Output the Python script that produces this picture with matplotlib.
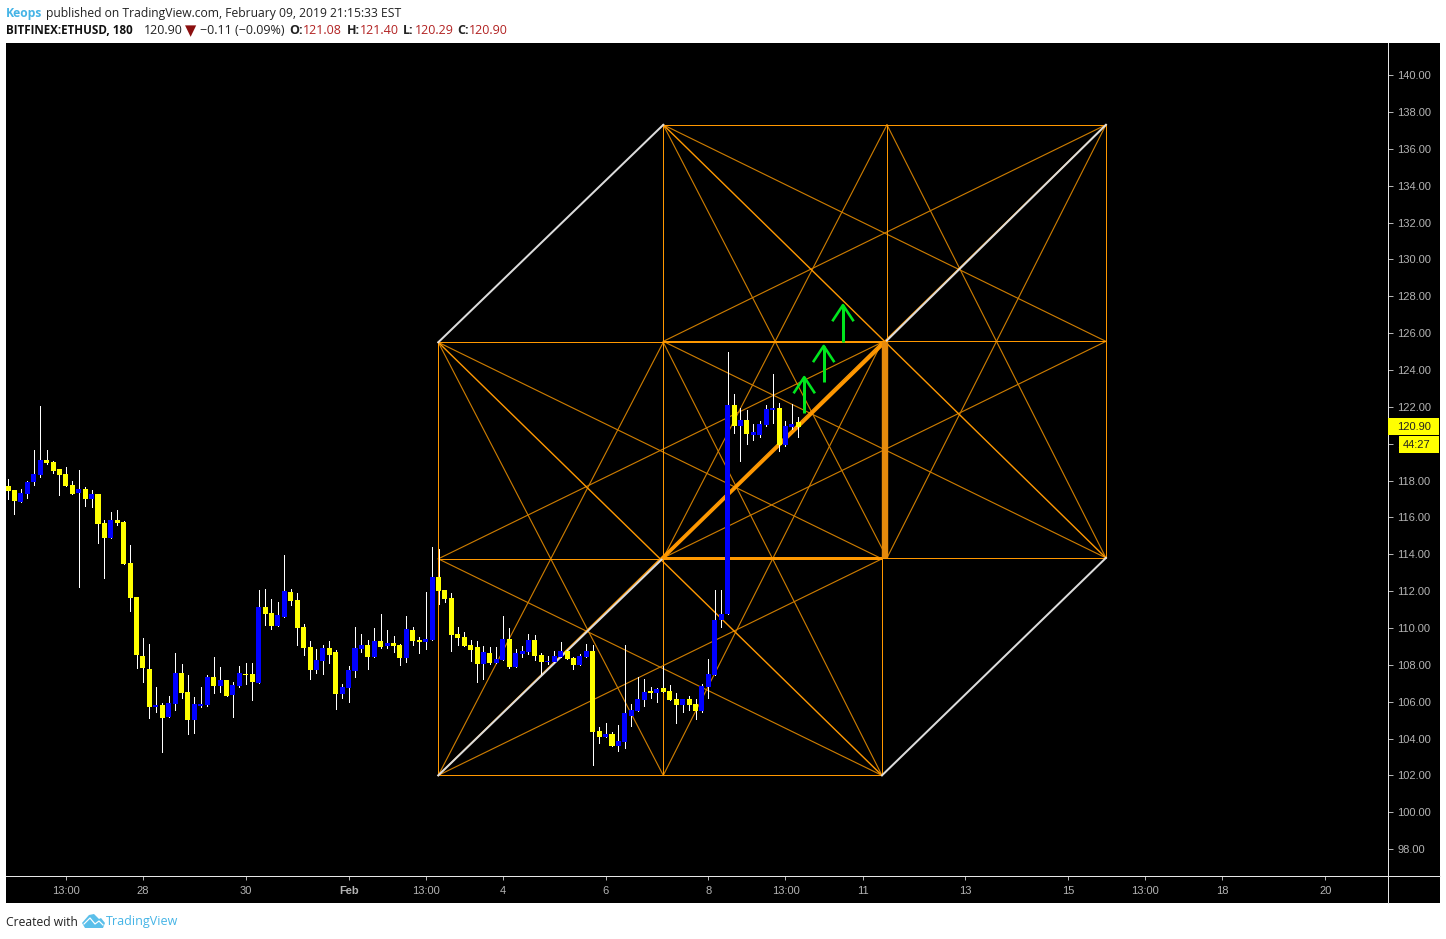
import matplotlib
matplotlib.use("Agg")
import matplotlib.pyplot as plt
from matplotlib.lines import Line2D
from matplotlib.patches import Polygon, Rectangle

# candles, 3h bars
opens = [
    117.70, 117.49, 116.83, 117.27, 117.92, 118.30, 119.11, 119.01, 118.63, 118.35,
    117.76, 117.32, 117.54, 117.00, 117.27, 115.69, 114.88, 115.86, 115.75, 113.52,
    111.68, 108.48, 107.77, 105.71, 105.82, 105.17, 105.87, 107.55, 106.52, 105.00,
    105.76, 105.82, 107.34, 106.85, 107.17, 106.36, 106.85, 107.50, 107.50, 107.01,
    111.13, 110.81, 110.10, 110.59, 111.95, 111.51, 110.05, 108.96, 107.71, 108.20,
    108.91, 108.69, 106.41, 106.74, 107.66, 108.85, 109.07, 108.42, 109.29, 109.02,
    109.18, 109.07, 108.37, 109.89, 109.34, 109.23, 109.34, 112.76, 112.06, 111.62,
    109.67, 109.51, 109.07, 108.96, 108.04, 108.64, 108.09, 108.26, 109.40, 107.88,
    108.58, 108.69, 109.34, 108.53, 108.15, 108.15, 108.42, 108.75, 108.37, 107.99,
    108.42, 108.75, 104.41, 104.08, 104.24, 103.59, 103.81, 105.22, 105.49, 106.09,
    106.58, 106.47, 106.74, 106.58, 106.14, 105.82, 106.14, 105.87, 105.49, 106.79,
    107.44, 110.43, 110.75, 122.09, 120.95, 121.28, 120.46, 120.46, 121.01, 121.82,
    121.93, 119.92, 120.90, 121.17,
]
closes = [
    117.43, 116.89, 117.32, 117.92, 118.35, 119.11, 118.95, 118.52, 118.30, 117.70,
    117.27, 117.54, 117.00, 117.27, 115.64, 114.88, 115.86, 115.69, 113.47, 111.62,
    108.53, 107.83, 105.71, 105.82, 105.11, 105.93, 107.55, 106.47, 105.00, 105.87,
    105.87, 107.34, 106.85, 107.17, 106.30, 106.90, 107.55, 107.44, 107.06, 111.13,
    110.75, 110.10, 110.70, 112.00, 111.46, 109.99, 108.91, 107.71, 108.26, 108.91,
    108.53, 106.41, 106.79, 107.71, 108.91, 109.07, 108.42, 109.29, 108.96, 109.18,
    109.02, 108.37, 109.94, 109.29, 109.23, 109.40, 112.76, 112.00, 111.57, 109.61,
    109.45, 109.02, 108.80, 108.04, 108.69, 108.09, 108.31, 109.40, 107.88, 108.64,
    108.75, 109.34, 108.47, 108.15, 108.20, 108.47, 108.75, 108.31, 107.99, 108.47,
    108.75, 104.35, 104.08, 104.24, 103.59, 103.86, 105.38, 105.54, 106.14, 106.52,
    106.47, 106.68, 106.52, 106.09, 105.82, 106.14, 105.82, 105.49, 106.85, 107.50,
    110.43, 110.75, 122.09, 120.95, 121.28, 120.52, 120.63, 121.06, 121.87, 121.93,
    119.92, 120.95, 121.06, 120.90,
]
highs = [
    118.08, 117.49, 117.54, 117.97, 119.66, 122.04, 119.66, 119.06, 118.63, 118.73,
    117.97, 118.57, 117.65, 117.49, 117.27, 115.86, 116.29, 116.40, 115.80, 114.50,
    111.68, 109.45, 109.13, 106.79, 105.93, 106.31, 108.64, 108.04, 107.45, 106.25,
    106.79, 107.45, 108.42, 107.88, 107.17, 107.06, 107.93, 108.09, 108.09, 112.06,
    112.11, 111.57, 111.41, 113.96, 112.11, 111.89, 110.21, 109.29, 108.85, 109.07,
    109.29, 108.80, 106.96, 107.93, 110.05, 109.67, 109.34, 109.99, 110.75, 109.89,
    109.56, 109.13, 110.65, 110.05, 109.51, 111.95, 114.39, 114.28, 112.06, 111.89,
    110.05, 109.78, 109.34, 109.29, 109.02, 108.96, 108.96, 110.65, 109.99, 108.85,
    109.02, 109.67, 109.61, 108.64, 108.47, 108.75, 109.23, 108.80, 108.42, 108.58,
    109.13, 109.07, 104.62, 104.84, 104.35, 104.73, 109.07, 105.87, 107.34, 107.23,
    106.79, 106.74, 107.93, 106.90, 106.47, 106.14, 106.30, 106.14, 106.96, 108.31,
    112.06, 112.06, 124.97, 122.69, 121.93, 121.82, 121.06, 121.22, 122.09, 123.77,
    122.20, 121.22, 122.15, 121.44,
]
lows = [
    117.00, 116.18, 116.83, 117.05, 117.76, 118.19, 118.90, 118.41, 117.21, 117.70,
    117.27, 112.22, 116.62, 116.56, 114.61, 112.71, 114.88, 115.59, 113.47, 110.92,
    107.83, 107.07, 105.11, 105.44, 103.27, 105.17, 105.55, 106.20, 104.24, 104.30,
    105.71, 105.76, 106.47, 106.52, 106.30, 105.16, 106.79, 106.96, 106.09, 107.01,
    110.16, 109.94, 110.10, 110.59, 111.24, 109.07, 108.53, 107.23, 107.55, 107.50,
    108.09, 105.60, 106.20, 105.98, 107.34, 108.69, 107.77, 108.42, 108.91, 108.91,
    108.69, 107.99, 108.15, 109.07, 108.64, 108.85, 109.34, 111.30, 111.41, 108.75,
    109.07, 109.02, 108.20, 107.06, 107.23, 108.04, 108.09, 108.26, 107.82, 107.88,
    108.42, 108.58, 108.26, 107.50, 108.04, 108.15, 108.42, 108.31, 107.77, 107.99,
    108.42, 102.56, 103.75, 104.08, 103.59, 103.32, 103.48, 104.68, 105.49, 105.76,
    106.20, 105.98, 106.52, 106.09, 104.84, 105.44, 105.54, 105.06, 105.44, 106.20,
    107.44, 110.05, 110.75, 120.57, 119.05, 119.98, 120.19, 120.36, 120.95, 121.11,
    119.60, 119.87, 120.79, 120.36,
]

x_tick_bars = [9, 21, 37, 53, 65, 77, 93, 109, 121, 133, 149, 165, 177, 189, 205]
x_tick_labels = ['13:00', '28', '30', 'Feb', '13:00', '4', '6', '8', '13:00', '11', '13', '15', '13:00', '18', '20']
y_ticks = list(range(98, 142, 2))

# the two squares of the drawing: left, mid, right, bottom, top (bar, price)
square_low = (66.96, 101.98, 136.02, 102.00, 125.50)
square_high = (101.98, 136.80, 170.88, 113.80, 137.30)
# green arrows: bar of shaft, price at foot, price at tip
arrows = [(123.92, 121.66, 123.61), (126.95, 123.34, 125.30), (129.95, 125.51, 127.52)]

W, H = 1446, 939
ORANGE = '#ff9800'
DIM = '#cc7c00'
WHITE_LINE = '#dcdcdc'
GRAY = '#b4b4b4'
PX = 72 / 100  # 1 px in points at dpi 100


def fx(px):
    return px / W


def fy(py):
    return 1 - py / H


def draw_square(ax, sq):
    l, mx, r, b, t = sq
    my = (b + t) / 2
    lw = 1 * PX
    # border and mid lines
    ax.plot([l, r, r, l, l], [b, b, t, t, b], color=ORANGE, lw=lw, zorder=3)
    ax.plot([mx, mx], [b, t], color=ORANGE, lw=lw, zorder=3)
    ax.plot([l, r], [my, my], color=ORANGE, lw=lw, zorder=3)
    # corners to opposite mids
    for cx, cy, ex, ey in [(l, t, mx, b), (l, t, r, my), (r, t, mx, b), (r, t, l, my),
                           (l, b, mx, t), (l, b, r, my), (r, b, mx, t), (r, b, l, my)]:
        ax.plot([cx, ex], [cy, ey], color=DIM, lw=lw * 1.15, zorder=2)
    # the two diagonals
    ax.plot([l, r], [t, b], color=ORANGE, lw=lw * 1.4, zorder=3)
    ax.plot([l, r], [b, t], color=ORANGE, lw=lw * 1.4, zorder=3)


def main():
    plt.rcParams['font.family'] = ['Liberation Sans', 'DejaVu Sans']
    fig = plt.figure(figsize=(W / 100, H / 100), dpi=100, facecolor='white')

    # black panel behind the axes, wider than the plot area
    fig.add_artist(Rectangle((fx(6), fy(903)), fx(1440 - 6), (903 - 43) / H,
                             transform=fig.transFigure, facecolor='black', edgecolor='none', zorder=-5))

    ax = fig.add_axes([fx(6), fy(876), fx(1388 - 6), (876 - 43) / H])
    ax.set_facecolor('black')
    ax.set_xlim(-0.32, 214.78)
    ax.set_ylim(96.54, 141.74)

    draw_square(ax, square_low)
    draw_square(ax, square_high)

    # white cube edges
    sl, _, sr, sb, st = square_low
    hl, _, hr, hb, ht = square_high
    for xs, ys in [((sl, hl), (st, ht)), ((sr, hr), (sb, hb)), ((sl, hl), (sb, hb)), ((136.5, hr), (st, ht))]:
        ax.plot(xs, ys, color=WHITE_LINE, lw=2 * PX, zorder=4)

    # heavy orange parts
    ax.plot([hl, 136.5], [hb, st], color=ORANGE, lw=3 * PX, zorder=4)
    ax.plot([hl, 136.5], [hb, hb], color=ORANGE, lw=2 * PX, zorder=4)
    ax.plot([136.5, 136.5], [hb, st], color='#e58a0c', lw=6.4 * PX, zorder=4, solid_capstyle='butt')

    # candles
    bars = range(len(opens))
    ax.vlines(bars, lows, highs, color='white', lw=1 * PX, antialiased=False, zorder=5)
    body_colors = ['#0000ff' if c >= o else '#ffff00' for o, c in zip(opens, closes)]
    body_low = [min(o, c) for o, c in zip(opens, closes)]
    body_h = [abs(o - c) for o, c in zip(opens, closes)]
    ax.bar(bars, body_h, bottom=body_low, width=0.78, color=body_colors, linewidth=0, antialiased=False, zorder=6)

    # green arrows
    for bar, foot, tip in arrows:
        ax.plot([bar, bar], [foot, tip], color='#00e61e', lw=3 * PX, zorder=7, solid_capstyle='butt')
        ax.plot([bar - 1.55, bar, bar + 1.55], [tip - 0.82, tip, tip - 0.82], color='#00e61e', lw=2.6 * PX, zorder=7)

    # axes
    for side in ['top', 'left']:
        ax.spines[side].set_visible(False)
    for side in ['right', 'bottom']:
        ax.spines[side].set_color('#e6e6e6')
        ax.spines[side].set_linewidth(1 * PX)
    ax.yaxis.tick_right()
    ax.set_yticks(y_ticks)
    ax.set_yticklabels([f'{v:.2f}' for v in y_ticks])
    ax.set_xticks(x_tick_bars)
    ax.set_xticklabels(x_tick_labels)
    ax.tick_params(axis='y', colors=GRAY, labelsize=8, length=3.6, width=PX, pad=3)
    ax.tick_params(axis='x', colors=GRAY, labelsize=8, length=2.9, width=PX, pad=4.4)
    ax.get_xticklabels()[3].set_fontweight('bold')

    # axis lines run on to the edge of the panel
    fig.add_artist(Line2D([fx(1388), fx(1388)], [fy(876), fy(903)], color='#e6e6e6', lw=PX))
    fig.add_artist(Line2D([fx(1388), fx(1440)], [fy(876), fy(876)], color='#e6e6e6', lw=PX))

    # price and countdown tags
    fig.add_artist(Rectangle((fx(1388), fy(435)), fx(51), 17 / H, transform=fig.transFigure,
                             facecolor='#ffff00', edgecolor='none', zorder=8))
    fig.add_artist(Rectangle((fx(1399), fy(453)), fx(40), 17 / H, transform=fig.transFigure,
                             facecolor='#ffff00', edgecolor='none', zorder=8))
    fig.text(fx(1414), fy(426.5), f'{closes[-1]:.2f}', color='#222222', fontsize=8, ha='center', va='center', zorder=9)
    fig.text(fx(1417), fy(444.5), '44:27', color='#222222', fontsize=8, ha='center', va='center', zorder=9)

    # header
    head = ['Open Sans', 'DejaVu Sans']
    fig.text(fx(6), fy(13), 'Keops', color='#45b4e6', fontsize=8.7, fontweight='bold', family=head, va='center')
    fig.text(fx(46), fy(13), 'published on TradingView.com, February 09, 2019 21:15:33 EST',
             color='#222222', fontsize=8.7, family=head, va='center')
    fig.text(fx(6), fy(30), 'BITFINEX:ETHUSD, 180', color='#111111', fontsize=8.4, fontweight='bold', family=head, va='center')
    fig.text(fx(144), fy(30), '120.90', color='#222222', fontsize=9, family=head, va='center')
    fig.text(fx(185), fy(30.5), '▼', color='#8b0f0f', fontsize=10.5, family=['DejaVu Sans'], va='center')
    fig.text(fx(200), fy(30), '−0.11 (−0.09%)', color='#222222', fontsize=9, family=head, va='center')
    for x_lab, lab, x_val, val in [(289, 'O:', 303, '121.08'), (347, 'H:', 360, '121.40'),
                                   (403, 'L:', 415, '120.29'), (457, 'C:', 469, '120.90')]:
        fig.text(fx(x_lab), fy(30), lab, color='#222222', fontsize=9, fontweight='bold', family=head, va='center')
        fig.text(fx(x_val), fy(30), val, color='#b22222', fontsize=9, family=head, va='center')

    # footer
    fig.text(fx(6), fy(922), 'Created with', color='#222222', fontsize=8.7, family=head, va='center')
    fig.text(fx(106), fy(922), 'TradingView', color='#45b4e6', fontsize=9, family=head, va='center')
    logo = [(82, 923), (89, 915), (94, 914), (99, 919), (101, 918), (105, 923), (103, 928), (85, 928)]
    fig.add_artist(Polygon([(fx(a), fy(b)) for a, b in logo], closed=True, transform=fig.transFigure,
                           facecolor='#5bbfea', edgecolor='none'))
    zig = [(84, 924), (90, 918), (95, 924), (99, 921), (103, 925)]
    fig.add_artist(Line2D([fx(a) for a, b in zig], [fy(b) for a, b in zig], color='white', lw=1.2 * PX))

    fig.savefig('out.png', dpi=100, facecolor='white')


if __name__ == "__main__":
    main()
